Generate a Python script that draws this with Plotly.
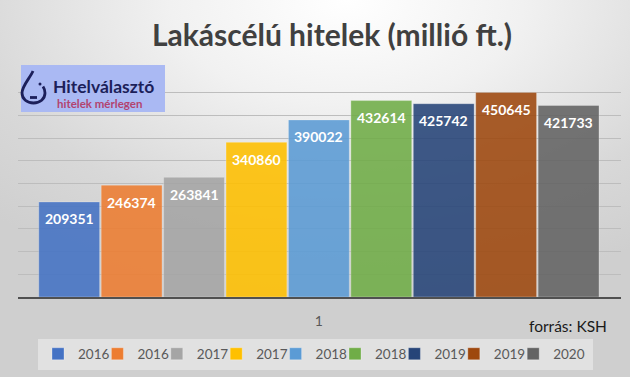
import base64
import plotly.graph_objects as go

# ---- data ----
series_names = ["2016", "2016", "2017", "2017", "2018", "2018", "2019", "2019", "2020"]
values = [209351, 246374, 263841, 340860, 390022, 432614, 425742, 450645, 421733]
colors = ["#4472C4", "#ED7D31", "#A5A5A5", "#FFC000", "#5B9BD5",
          "#70AD47", "#264478", "#9E480E", "#636363"]
category_label = "1"
title_text = "Lakáscélú hitelek (millió ft.)"
source_text = "forrás: KSH"

W, H = 630, 377
ML, MR, MT, MB = 18, 9, 70, 80
PW, PH = W - ML - MR, H - MT - MB
FONT = "Lato"


def px(x):
    return (x - ML) / PW


def py(y):
    return (H - MB - y) / PH


fig = go.Figure()
positions = list(range(len(values)))
n = len(values)
for i, (name, v, c) in enumerate(zip(series_names, values, colors)):
    fig.add_trace(go.Bar(
        x=[positions[i]], y=[v], name=name, width=0.975,
        marker=dict(color=c, opacity=0.88, line=dict(width=0.8, color="rgba(255,255,255,0.35)")),
        hoverinfo="name+y",
        legendwidth=(34 if i == n - 1 else None),
    ))

for i, v in enumerate(values):
    fig.add_annotation(x=positions[i], y=v, xref="x", yref="y", text=str(v),
                       showarrow=False, yshift=-17, yanchor="middle",
                       font=dict(family=FONT, size=14, color="white", weight="bold"))

# background gradient
svg = ('<svg xmlns="http://www.w3.org/2000/svg" width="630" height="377">'
       '<defs><radialGradient id="g" cx="0.55" cy="0.0" r="0.8">'
       '<stop offset="0" stop-color="#ffffff"/><stop offset="0.35" stop-color="#f1f1f1"/>'
       '<stop offset="0.75" stop-color="#d8d8d8"/><stop offset="1" stop-color="#cfcfcf"/>'
       '</radialGradient></defs><rect width="630" height="377" fill="url(#g)"/></svg>')
uri = "data:image/svg+xml;base64," + base64.b64encode(svg.encode()).decode()
fig.add_layout_image(source=uri, xref="paper", yref="paper", x=px(0), y=py(0),
                     sizex=W / PW, sizey=H / PH, xanchor="left", yanchor="top",
                     sizing="stretch", layer="below")

# logo
fig.add_shape(type="rect", xref="paper", yref="paper", x0=px(21), x1=px(165), y0=py(65), y1=py(112),
              fillcolor="#aab9f3", line=dict(width=0), layer="above")


def pth(pts_cmds):
    out = []
    for cmd, pts in pts_cmds:
        s = cmd + " ".join(f"{px(a):.5f},{py(b):.5f}" for a, b in pts)
        out.append(s)
    return " ".join(out)


NAVY = "#1c1f5a"
drop = pth([("M", [(33, 71)]), ("C", [(30, 78), (22, 86), (22, 93)]),
            ("C", [(22, 99), (27, 103), (33.5, 103)]), ("C", [(40, 103), (45, 99), (45, 93)]),
            ("C", [(45, 90), (44, 88), (43, 86.5)])])
fig.add_shape(type="path", xref="paper", yref="paper", path=drop,
              line=dict(color=NAVY, width=2.8))
fig.add_shape(type="line", xref="paper", yref="paper", x0=px(30), x1=px(37), y0=py(97.5), y1=py(97.5),
              line=dict(color=NAVY, width=2.8))
fig.add_shape(type="circle", xref="paper", yref="paper", x0=px(38.5), x1=px(41.5), y0=py(82.5), y1=py(85.5),
              fillcolor=NAVY, line=dict(width=0))
fig.add_annotation(xref="paper", yref="paper", x=px(50.5), y=py(86), xanchor="left", yanchor="middle",
                   text="Hitelválasztó", showarrow=False,
                   font=dict(family=FONT, size=17.5, color=NAVY, weight="bold"))
fig.add_annotation(xref="paper", yref="paper", x=px(55), y=py(103), xanchor="left", yanchor="middle",
                   text="hitelek mérlegen", showarrow=False,
                   font=dict(family=FONT, size=11.5, color="#b3436f", weight="bold"))

fig.add_annotation(xref="paper", yref="paper", x=px(568), y=py(326), xanchor="center", yanchor="middle",
                   text=source_text, showarrow=False,
                   font=dict(family=FONT, size=15.5, color="#1a1a1a"))

fig.update_layout(
    width=W, height=H,
    margin=dict(l=ML, r=MR, t=MT, b=MB, pad=0, autoexpand=False),
    paper_bgcolor="#dcdcdc", plot_bgcolor="rgba(0,0,0,0)",
    title=dict(text=title_text, x=332 / W, xanchor="center", y=1 - 35 / H, yanchor="middle",
               font=dict(family=FONT, size=30, color="#404040", weight="bold")),
    barmode="overlay",
    showlegend=True,
    legend=dict(orientation="h", x=px(38), xanchor="left", y=py(354), yanchor="middle",
                bgcolor="rgba(240,240,240,0.55)", borderwidth=0,
                font=dict(family=FONT, size=13.5, color="#595959"),
                entrywidth=14.4, entrywidthmode="pixels", traceorder="normal"),
    xaxis=dict(range=[-0.82, 8.84], tickmode="array", tickvals=[sum(positions) / len(positions)],
               ticktext=[category_label], showgrid=False, zeroline=False,
               showline=True, linecolor="#505050", linewidth=2,
               ticks="outside", ticklen=10, tickcolor="rgba(0,0,0,0)",
               tickfont=dict(family=FONT, size=14, color="#595959"), fixedrange=True),
    yaxis=dict(range=[0, 500000], dtick=50000, showgrid=True, gridcolor="#bdbdbd", gridwidth=1,
               showticklabels=False, zeroline=False, showline=False, fixedrange=True),
)

fig.write_html("out.html", config={"displayModeBar": False},
               post_script="document.body.style.margin='0';document.body.style.overflow='hidden';")
